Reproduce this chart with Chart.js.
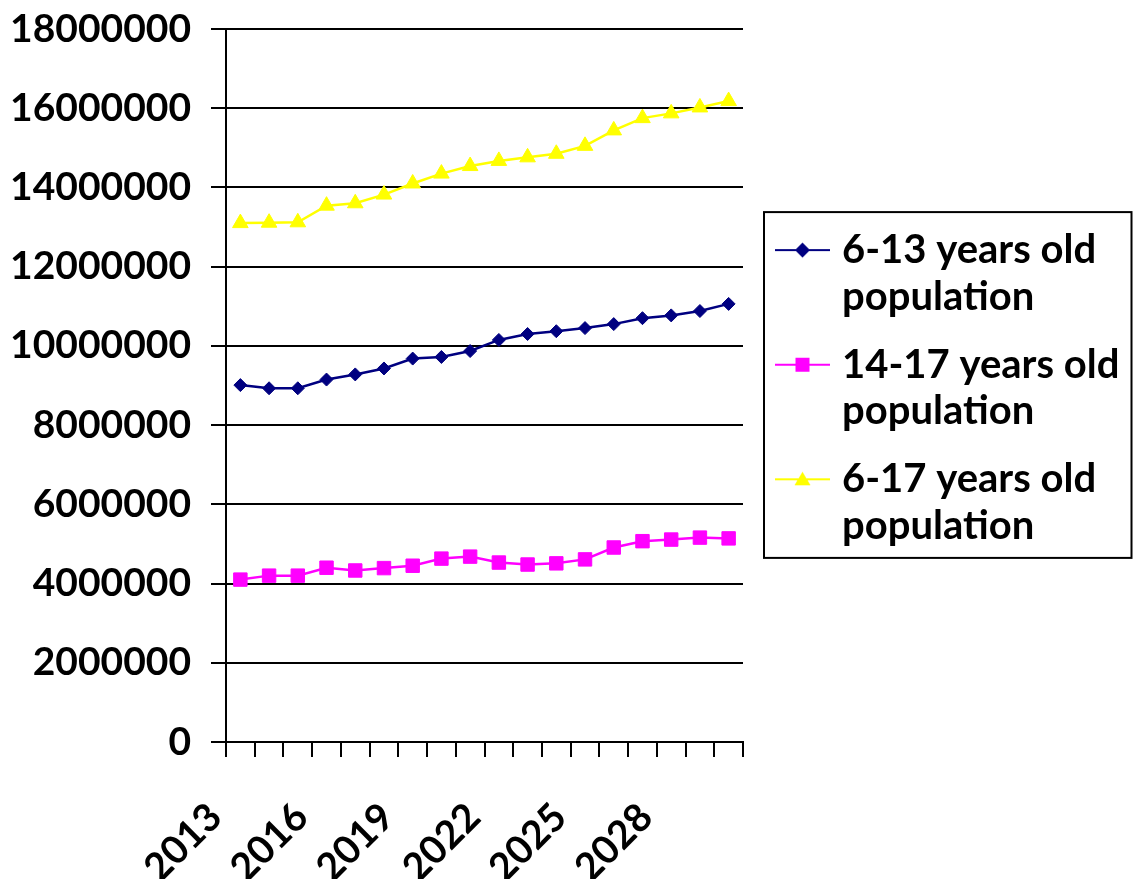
<!DOCTYPE html>
<html>
<head>
<meta charset="utf-8">
<title>School-age population projection</title>
<script src="https://cdn.jsdelivr.net/npm/chart.js@4/dist/chart.umd.min.js"></script>
<style>
  html, body { margin: 0; padding: 0; background: #ffffff; }
  canvas { display: block; }
</style>
</head>
<body>
<canvas id="chart" width="1133" height="879"></canvas>
<script>
// Years on the category axis; every third one carries a label
const years = ['2013', '2014', '2015', '2016', '2017', '2018', '2019', '2020', '2021',
               '2022', '2023', '2024', '2025', '2026', '2027', '2028', '2029', '2030'];
const labelEvery = 3;

// Projected population by age group
const age6to13 = [9010000, 8930000, 8930000, 9150000, 9280000, 9430000, 9680000, 9720000, 9870000,
                  10150000, 10300000, 10370000, 10450000, 10550000, 10700000, 10770000, 10880000, 11060000];
const age14to17 = [4100000, 4200000, 4200000, 4400000, 4330000, 4390000, 4450000, 4630000, 4680000,
                   4530000, 4480000, 4510000, 4610000, 4910000, 5070000, 5110000, 5160000, 5140000];
const age6to17 = [13100000, 13110000, 13120000, 13540000, 13600000, 13820000, 14100000, 14350000, 14540000,
                  14670000, 14760000, 14850000, 15050000, 15440000, 15750000, 15870000, 16020000, 16180000];

// Series names, split over two legend lines
const seriesNames = [
  ['6-13 years old', 'population'],
  ['14-17 years old', 'population'],
  ['6-17 years old', 'population']
];

// Value axis
const yMin = 0;
const yMax = 18000000;
const yStep = 2000000;

const FONT = 'Lato, "Open Sans", "Liberation Sans", sans-serif';
const tickFont = { family: FONT, size: 39, weight: 'bold', lineHeight: 1.2 };
const legendFont = { family: FONT, size: 40, weight: 'bold', lineHeight: 1.17 };

// Legend geometry
const legendWidth = 390;        // from the plot's right edge to the canvas edge
const legendPadding = 21;
const legendSymbolWidth = 58;

// Legend symbol: a short line with the series marker in its middle
function legendIcon(color, shape) {
  const c = document.createElement('canvas');
  c.width = 80; c.height = 24;
  const g = c.getContext('2d');
  const cy = 12, mx = 49.5;
  g.strokeStyle = color;
  g.lineWidth = 2;
  g.beginPath(); g.moveTo(22, cy); g.lineTo(77, cy); g.stroke();
  g.fillStyle = color;
  g.beginPath();
  if (shape === 'diamond') {
    g.moveTo(mx - 7.5, cy); g.lineTo(mx, cy - 7.5); g.lineTo(mx + 7.5, cy); g.lineTo(mx, cy + 7.5);
  } else if (shape === 'square') {
    g.rect(mx - 7, cy - 7, 14, 14);
  } else {
    g.moveTo(mx, cy - 7.5); g.lineTo(mx + 8, cy + 6); g.lineTo(mx - 8, cy + 6);
  }
  g.closePath(); g.fill();
  return c;
}

const seriesStyles = [
  { color: '#000080', pointStyle: 'rectRot', radius: 6.5, icon: 'diamond' },
  { color: '#FF00FF', pointStyle: 'rect', radius: 9.5, icon: 'square' },
  { color: '#FFFF00', pointStyle: 'triangle', radius: 9, icon: 'triangle' }
];
const seriesData = [age6to13, age14to17, age6to17];
const legendIcons = seriesStyles.map(s => legendIcon(s.color, s.icon));

// Natural legend width (as the legend computes it) to size the right padding
function naturalLegendWidth() {
  const g = document.createElement('canvas').getContext('2d');
  g.font = 'bold ' + legendFont.size + 'px ' + FONT;
  let textW = 0;
  seriesNames.forEach(lines => {
    const longest = lines.reduce((a, b) => (a.length > b.length ? a : b));
    textW = Math.max(textW, g.measureText(longest).width);
  });
  return legendPadding + legendSymbolWidth + legendFont.size / 2 + textW + 10;
}
const rightPad = Math.max(0, legendWidth - naturalLegendWidth());

const datasets = seriesData.map((data, i) => ({
  label: seriesNames[i].join(' '),
  data: data,
  borderColor: seriesStyles[i].color,
  backgroundColor: seriesStyles[i].color,
  borderWidth: 2.5,
  pointStyle: seriesStyles[i].pointStyle,
  pointRadius: seriesStyles[i].radius,
  pointHoverRadius: seriesStyles[i].radius,
  pointBorderWidth: 1,
  pointBackgroundColor: seriesStyles[i].color,
  pointBorderColor: seriesStyles[i].color,
  tension: 0,
  fill: false
}));

// Frame around the legend
const legendFrame = {
  id: 'legendFrame',
  afterDraw(chart) {
    const lg = chart.legend;
    const hb = lg && lg.legendHitBoxes;
    if (!hb || !hb.length) return;
    const first = hb[0], last = hb[hb.length - 1];
    const left = chart.chartArea.right + 21;
    const top = first.top - 18;
    const bottom = last.top + last.height + 5;
    const right = chart.width - 1.5;
    const ctx = chart.ctx;
    ctx.save();
    ctx.strokeStyle = '#000';
    ctx.lineWidth = 2;
    ctx.strokeRect(left, top, right - left, bottom - top);
    ctx.restore();
  }
};

new Chart(document.getElementById('chart'), {
  type: 'line',
  data: { labels: years, datasets: datasets },
  plugins: [legendFrame],
  options: {
    responsive: false,
    animation: false,
    layout: { padding: { top: 29, left: 0, right: rightPad, bottom: 0 } },
    plugins: {
      tooltip: { enabled: false },
      title: { display: false },
      legend: {
        position: 'right',
        fullSize: false,
        align: 'center',
        maxWidth: legendWidth,
        // empty title used as a small spacer above the entries
        title: { display: true, text: '', padding: { top: 2, bottom: 0 }, font: { size: 10, lineHeight: 1 } },
        labels: {
          usePointStyle: true,
          pointStyleWidth: legendSymbolWidth,
          padding: legendPadding,
          color: '#000',
          font: legendFont,
          generateLabels(chart) {
            const items = Chart.defaults.plugins.legend.labels.generateLabels(chart);
            items.forEach((item, i) => {
              item.text = seriesNames[i];
              item.pointStyle = legendIcons[i];
            });
            return items;
          }
        }
      }
    },
    scales: {
      x: {
        offset: true,
        grid: {
          display: true,
          drawOnChartArea: false,
          drawTicks: true,
          tickLength: 15,
          color: '#000',
          lineWidth: 2,
          offset: true
        },
        border: { display: true, color: '#000', width: 2 },
        ticks: {
          autoSkip: false,
          minRotation: 45,
          maxRotation: 45,
          labelOffset: -25,
          padding: 37,
          color: '#000',
          font: tickFont,
          callback(value, index) {
            return index % labelEvery === 0 ? this.getLabelForValue(value) : '';
          }
        },
        afterFit(scale) { scale.height = 137; }
      },
      y: {
        min: yMin,
        max: yMax,
        grid: {
          color: '#000',
          lineWidth: 2,
          drawTicks: true,
          tickLength: 15
        },
        border: { display: true, color: '#000', width: 2 },
        ticks: {
          stepSize: yStep,
          padding: 20,
          color: '#000',
          font: tickFont,
          callback(value) { return String(value); }
        },
        afterFit(scale) {
          scale.width = 226;
          // the top and bottom labels have room above and below the plot
          scale.paddingTop = 0;
          scale.paddingBottom = 0;
        }
      }
    }
  }
});
</script>
</body>
</html>
